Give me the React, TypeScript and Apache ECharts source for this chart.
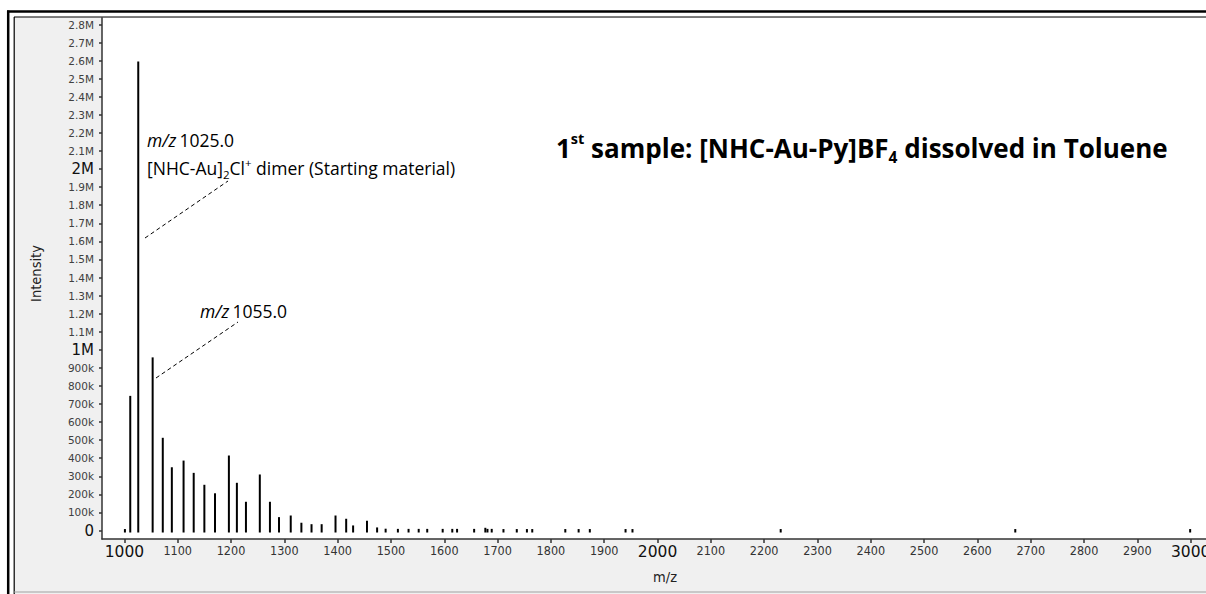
import React, { useEffect, useRef } from "react";
import * as echarts from "echarts";

const mzValues = [1001, 1011, 1026, 1053, 1072, 1089, 1111, 1130, 1150, 1170, 1196, 1211, 1228, 1254, 1273, 1290, 1312, 1332, 1351, 1370, 1396, 1416, 1429, 1455, 1474, 1490, 1513, 1533, 1552, 1568, 1597, 1615, 1624, 1656, 1677, 1681, 1689, 1711, 1736, 1755, 1765, 1827, 1852, 1873, 1940, 1953, 2231, 2671, 2999];
const intensityValues = [8000, 745000, 2595000, 958000, 513000, 350000, 387000, 319000, 253000, 206000, 415000, 264000, 159000, 310000, 159000, 74000, 83000, 43000, 35000, 35000, 83000, 65000, 28000, 54000, 17000, 10000, 9000, 9000, 9000, 9000, 9000, 9000, 9000, 9000, 15000, 9000, 9000, 8000, 8000, 8000, 8000, 8000, 8000, 8000, 8000, 8000, 8000, 8000, 8000];

const xTickValues = [1000, 1100, 1200, 1300, 1400, 1500, 1600, 1700, 1800, 1900, 2000, 2100, 2200, 2300, 2400, 2500, 2600, 2700, 2800, 2900, 3000];
const yTickValues = [0, 100000, 200000, 300000, 400000, 500000, 600000, 700000, 800000, 900000, 1000000, 1100000, 1200000, 1300000, 1400000, 1500000, 1600000, 1700000, 1800000, 1900000, 2000000, 2100000, 2200000, 2300000, 2400000, 2500000, 2600000, 2700000, 2800000];

const xName = "m/z";
const yName = "Intensity";

const SMALL_FONT = "'DejaVu Sans Condensed', 'DejaVu Sans', sans-serif";
const LABEL_FONT = "'Open Sans', 'Noto Sans', sans-serif";

function yLabel(v: number): string {
  if (v === 0) return "{big|0}";
  if (v % 1000000 === 0) return `{big|${v / 1000000}M}`;
  if (v >= 1000000) return `{small|${(v / 1000000).toFixed(1)}M}`;
  return `{small|${v / 1000}k}`;
}

function xLabel(v: number): string {
  if (v % 1000 === 0) return `{big|${v}}`;
  return `{small|${v}}`;
}

export default function App() {
  const ref = useRef<HTMLDivElement>(null);

  useEffect(() => {
    if (!ref.current) return;
    const chart = echarts.init(ref.current, null, { renderer: "svg" });
    const data = mzValues.map((m, i) => [m, intensityValues[i]]);

    const ann = { fontFamily: LABEL_FONT, fontSize: 17.5, fill: "#000" };

    chart.setOption({
      animation: false,
      backgroundColor: "#f0f0f0",
      grid: {
        left: 102,
        right: -22,
        top: 18,
        bottom: 55,
        show: true,
        backgroundColor: "#ffffff",
        borderWidth: 0,
        containLabel: false,
        outerBoundsMode: "none",
      },
      xAxis: {
        type: "value",
        min: 958,
        max: 3070,
        name: xName,
        nameLocation: "middle",
        nameGap: 30,
        nameTextStyle: { fontFamily: SMALL_FONT, fontSize: 14.5, color: "#222" },
        splitLine: { show: false },
        axisLine: { show: true, onZero: false, lineStyle: { color: "#333", width: 1.5 } },
        axisTick: { show: true, length: 4, customValues: xTickValues, lineStyle: { color: "#333", width: 1.5 } },
        axisLabel: {
          customValues: xTickValues,
          margin: 5,
          formatter: xLabel,
          rich: {
            small: { fontFamily: SMALL_FONT, fontSize: 12.5, color: "#333" },
            big: { fontFamily: "'DejaVu Sans', sans-serif", fontSize: 15.5, color: "#111" },
          },
        },
      },
      yAxis: {
        type: "value",
        min: -47000,
        max: 2836000,
        name: yName,
        nameLocation: "middle",
        nameRotate: 90,
        nameGap: 59,
        nameTextStyle: { fontFamily: SMALL_FONT, fontSize: 14.5, color: "#222", padding: [0, 0, 0, 10] },
        splitLine: { show: false },
        axisLine: { show: true, onZero: false, lineStyle: { color: "#333", width: 1.5 } },
        axisTick: { show: true, length: 3, customValues: yTickValues, lineStyle: { color: "#333", width: 1.5 } },
        axisLabel: {
          customValues: yTickValues,
          margin: 8,
          formatter: yLabel,
          rich: {
            small: { fontFamily: "'DejaVu Sans', sans-serif", fontSize: 10.5, color: "#404040" },
            big: { fontFamily: "'DejaVu Sans', sans-serif", fontSize: 15, color: "#111" },
          },
        },
      },
      series: [
        {
          type: "custom",
          data,
          encode: { x: 0, y: 1 },
          clip: true,
          renderItem: (params: any, api: any) => {
            const x = api.value(0);
            const y = api.value(1);
            const p0 = api.coord([x, 0]);
            const p1 = api.coord([x, y]);
            return {
              type: "line",
              shape: { x1: p0[0], y1: p0[1] + 2, x2: p1[0], y2: p1[1] },
              style: { stroke: "#000", lineWidth: 2 },
            };
          },
        },
      ],
      graphic: [
        // annotations
        {
          type: "text",
          x: 147,
          y: 140,
          style: {
            text: "{i|m/z} {n|1025.0}",
            verticalAlign: "middle",
            rich: {
              i: { ...ann, fontStyle: "italic" },
              n: { ...ann },
            },
          },
        },
        {
          type: "text",
          x: 147,
          y: 168,
          style: {
            text: "{n|[NHC-Au]}{sub|2}{n|Cl}{sup|+}{n| dimer (Starting material)}",
            verticalAlign: "middle",
            rich: {
              n: { ...ann, lineHeight: 24 },
              sub: { ...ann, fontSize: 11.5, verticalAlign: "bottom", lineHeight: 16 },
              sup: { ...ann, fontSize: 11.5, verticalAlign: "top", lineHeight: 12 },
            },
          },
        },
        {
          type: "text",
          x: 200,
          y: 311,
          style: {
            text: "{i|m/z} {n|1055.0}",
            verticalAlign: "middle",
            rich: {
              i: { ...ann, fontStyle: "italic" },
              n: { ...ann },
            },
          },
        },
        {
          type: "line",
          shape: { x1: 145, y1: 238, x2: 228, y2: 181 },
          style: { stroke: "#000", lineWidth: 1, lineDash: [4, 3] },
        },
        {
          type: "line",
          shape: { x1: 156, y1: 378, x2: 238, y2: 322 },
          style: { stroke: "#000", lineWidth: 1, lineDash: [4, 3] },
        },
        // title
        {
          type: "text",
          x: 556,
          y: 148,
          style: {
            text: "{b|1}{sup|st}{b| sample: [NHC-Au-Py]BF}{sub|4}{b| dissolved in Toluene}",
            verticalAlign: "middle",
            rich: {
              b: { fontFamily: LABEL_FONT, fontWeight: "bold", fontSize: 26, fill: "#000", lineHeight: 34 },
              sup: { fontFamily: LABEL_FONT, fontWeight: "bold", fontSize: 14.5, fill: "#000", verticalAlign: "top", lineHeight: 16 },
              sub: { fontFamily: LABEL_FONT, fontWeight: "bold", fontSize: 15.5, fill: "#000", verticalAlign: "bottom", lineHeight: 24 },
            },
          },
        },
        // frame
        { type: "rect", z: 100, shape: { x: 0, y: 0, width: 1206, height: 17 }, style: { fill: "#fff" } },
        { type: "rect", z: 100, shape: { x: 0, y: 0, width: 14, height: 594 }, style: { fill: "#fff" } },
        { type: "line", z: 101, shape: { x1: 7, y1: 11.5, x2: 1206, y2: 11.5 }, style: { stroke: "#000", lineWidth: 2.5 } },
        { type: "line", z: 101, shape: { x1: 8.2, y1: 10.5, x2: 8.2, y2: 594 }, style: { stroke: "#000", lineWidth: 2.5 } },
        { type: "line", z: 101, shape: { x1: 14, y1: 17, x2: 1206, y2: 17 }, style: { stroke: "#000", lineWidth: 1.2 } },
        { type: "line", z: 101, shape: { x1: 14.2, y1: 17, x2: 14.2, y2: 594 }, style: { stroke: "#000", lineWidth: 1.2 } },
        { type: "line", z: 101, shape: { x1: 14, y1: 592, x2: 1206, y2: 592 }, style: { stroke: "#a0a0a0", lineWidth: 1 } },
      ],
    });

    return () => chart.dispose();
  }, []);

  return (
    <div
      ref={ref}
      style={{ position: "absolute", left: 0, top: 0, width: 1206, height: 594 }}
    />
  );
}
